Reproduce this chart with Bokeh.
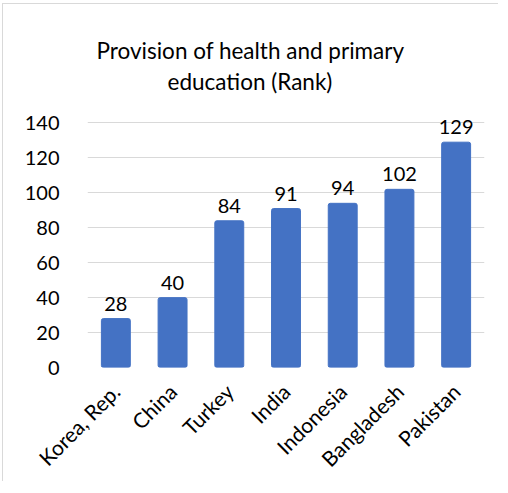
from bokeh.plotting import figure
from bokeh.models import ColumnDataSource, Range1d, FixedTicker, Title
from bokeh.core.properties import value
from bokeh.embed import file_html
from bokeh.resources import INLINE
import math

countries = ["Korea, Rep.", "China", "Turkey", "India", "Indonesia", "Bangladesh", "Pakistan"]
ranks = [28, 40, 84, 91, 94, 102, 129]
y_ticks = [0, 20, 40, 60, 80, 100, 120, 140]
title_lines = ["Provision of health and primary", "education (Rank)"]

FONT = "Lato"
src = ColumnDataSource(dict(x=countries, top=ranks, lbl=[str(v) for v in ranks]))

p = figure(x_range=countries, y_range=Range1d(0, 150), width=496, height=478,
           output_backend="svg", toolbar_location=None,
           min_border_left=84, min_border_right=15, min_border_top=101, min_border_bottom=114)
p.styles = {"border-left": "1px solid #d9d9d9", "border-top": "1px solid #d9d9d9",
            "margin-left": "2px", "margin-top": "3px"}
p.outline_line_color = None

spacer = Title(text=" ", align="left", text_font_size="1px", standoff=6)
t2 = Title(text=title_lines[1], align="left", text_font=FONT, text_font_size="22.5px",
           text_font_style="normal", text_color="#000000", offset=80, standoff=4)
t1 = Title(text=title_lines[0], align="left", text_font=FONT, text_font_size="22.5px",
           text_font_style="normal", text_color="#000000", offset=9, standoff=0)
p.add_layout(spacer, "above")
p.add_layout(t2, "above")
p.add_layout(t1, "above")

p.vbar(x="x", top="top", width=0.51, source=src, fill_color="#4472C4",
       line_color="#4472C4", border_radius=2)
p.text(x="x", y="top", text="lbl", source=src, text_align="center",
       text_baseline="alphabetic", y_offset=-15, text_font=value(FONT),
       text_font_size="20px", text_color="#000000")

p.yaxis.ticker = FixedTicker(ticks=y_ticks)
p.yaxis.axis_line_color = None
p.yaxis.major_tick_line_color = None
p.yaxis.minor_tick_line_color = None
p.yaxis.major_label_text_font = FONT
p.yaxis.major_label_text_font_size = "20px"
p.yaxis.major_label_text_color = "#000000"
p.yaxis.major_label_standoff = 22

p.xaxis.axis_line_color = None
p.xaxis.major_tick_line_color = None
p.xaxis.major_label_orientation = math.pi / 4
p.xaxis.major_label_text_font = FONT
p.xaxis.major_label_text_font_size = "21px"
p.xaxis.major_label_text_color = "#000000"
p.xaxis.major_label_standoff = 14

p.xgrid.grid_line_color = None
p.ygrid.grid_line_color = "#d9d9d9"
p.ygrid.grid_line_width = 1

open("out.html", "w").write(file_html(p, INLINE))
